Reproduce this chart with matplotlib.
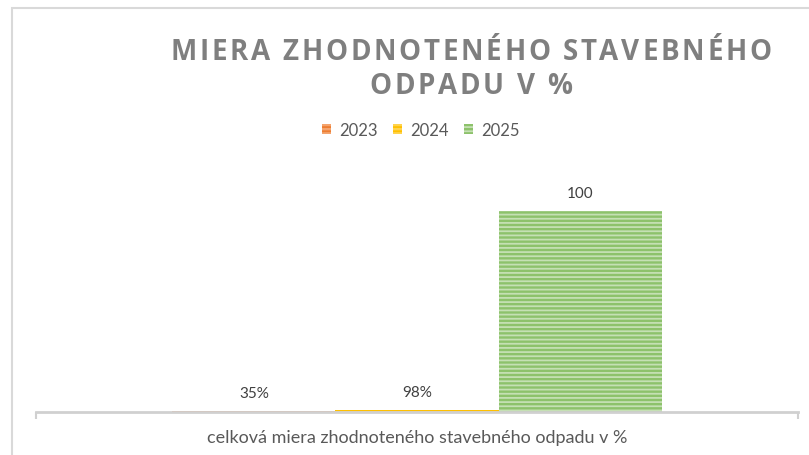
import matplotlib.pyplot as plt
from matplotlib.patches import Rectangle
from matplotlib.font_manager import FontProperties
from matplotlib.textpath import TextToPath

years = ['2023', '2024', '2025']
values = [0.35, 0.98, 100]
value_labels = ['35%', '98%', '100']
category = 'celková miera zhodnoteného stavebného odpadu v %'
title_lines = ['MIERA ZHODNOTENÉHO STAVEBNÉHO', 'ODPADU V %']

face = ['#F4A46E', '#FFD34D', '#8DC26B']
stripe = ['#ED7D31', '#FFC000', '#C5E0B4']

plt.rcParams['font.family'] = ['Lato', 'DejaVu Sans']
plt.rcParams['hatch.linewidth'] = 1.3

W, H = 809, 456
fig = plt.figure(figsize=(W / 100, H / 100), dpi=100)

# outer chart border (only left and top visible)
fig.patches.append(Rectangle((12 / W, -0.5), 2, 1 - 9 / H + 0.5,
                             transform=fig.transFigure, fill=False,
                             edgecolor='#D9D9D9', linewidth=1.5))

ax = fig.add_axes([36 / W, 1 - 413 / H, (798 - 36) / W, (413 - 172) / H])

for i, (y, v) in enumerate(zip(years, values)):
    ax.bar(i, v, width=1.0, facecolor=face[i], edgecolor=stripe[i],
           linewidth=0, hatch='----', label=y)
    ax.annotate(value_labels[i], (i, v), xytext=(0, 13), textcoords='offset points',
                ha='center', va='center', fontsize=11, color='#404040')

gap = 0.837
ax.set_xlim(-0.5 - gap, 2.5 + gap)
ax.set_ylim(0, 120)

for s in ['top', 'right', 'left']:
    ax.spines[s].set_visible(False)
ax.spines['bottom'].set_color('#D0D0D0')
ax.spines['bottom'].set_linewidth(2.0)
ax.spines['bottom'].set_zorder(5)
ax.set_yticks([])

ax.set_xticks([1])
ax.set_xticklabels([category], fontsize=13, color='#595959')
ax.tick_params(axis='x', which='major', length=0, pad=12)
ax.set_xticks([-0.5 - gap, 2.5 + gap], minor=True)
ax.tick_params(axis='x', which='minor', length=5, width=1.5, color='#D0D0D0')

# title with letter spacing: place each character
prop = FontProperties(family='Open Sans', weight='bold', size=20)
ttp = TextToPath()
track = 2.7  # extra px between letters
for line, yc in zip(title_lines, [52, 86]):
    widths = [ttp.get_text_width_height_descent(c, prop, ismath=False)[0] * 100 / 72
              for c in line]
    total = sum(widths) + track * (len(line) - 1)
    x = 471 - total / 2
    for c, w in zip(line, widths):
        fig.text(x / W, 1 - yc / H, c, ha='left', va='center', fontproperties=prop,
                 color='#7F7F7F')
        x += w + track

fig.legend(loc='center', bbox_to_anchor=(421 / W, 1 - 131 / H), ncol=3, frameon=False,
           fontsize=12, labelcolor='#595959', handlelength=0.55, handleheight=0.55,
           handletextpad=0.5, columnspacing=0.9)

fig.savefig('out.png', dpi=100)
